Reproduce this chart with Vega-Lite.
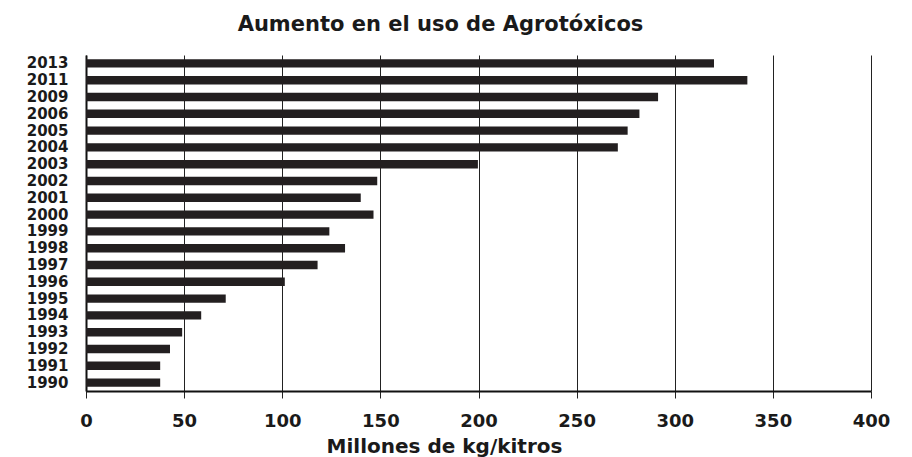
{
  "$schema": "https://vega.github.io/schema/vega-lite/v6.json",
  "width": 785,
  "height": 336,
  "autosize": "none",
  "padding": {"left": 86, "top": 55, "right": 41, "bottom": 66},
  "background": "white",
  "title": {
    "text": "Aumento en el uso de Agrotóxicos",
    "font": "DejaVu Sans",
    "fontSize": 21,
    "fontWeight": "bold",
    "color": "#1a1a1a",
    "anchor": "middle",
    "dx": -38,
    "dy": 19,
    "baseline": "alphabetic",
    "offset": 22
  },
  "data": {
    "values": [
      {"year": "2013", "value": 320},
      {"year": "2011", "value": 337},
      {"year": "2009", "value": 291.5},
      {"year": "2006", "value": 282},
      {"year": "2005", "value": 276},
      {"year": "2004", "value": 271},
      {"year": "2003", "value": 199.7},
      {"year": "2002", "value": 148.4},
      {"year": "2001", "value": 140},
      {"year": "2000", "value": 146.5},
      {"year": "1999", "value": 124},
      {"year": "1998", "value": 132},
      {"year": "1997", "value": 118},
      {"year": "1996", "value": 101.3},
      {"year": "1995", "value": 71.2},
      {"year": "1994", "value": 58.7},
      {"year": "1993", "value": 49},
      {"year": "1992", "value": 42.8},
      {"year": "1991", "value": 37.8},
      {"year": "1990", "value": 37.8}
    ]
  },
  "mark": {"type": "bar", "color": "#231f20"},
  "encoding": {
    "y": {
      "field": "year",
      "type": "nominal",
      "sort": "descending",
      "scale": {"paddingInner": 0.5, "paddingOuter": 0.25},
      "axis": {
        "title": null,
        "ticks": false,
        "grid": false,
        "domain": true,
        "domainColor": "#111111",
        "domainWidth": 2,
        "labelFont": "DejaVu Sans",
        "labelFontSize": 15,
        "labelFontWeight": "bold",
        "labelColor": "#1a1a1a",
        "labelPadding": 18
      }
    },
    "x": {
      "field": "value",
      "type": "quantitative",
      "scale": {"domain": [0, 400], "nice": false},
      "axis": {
        "values": [0, 50, 100, 150, 200, 250, 300, 350, 400],
        "title": "Millones de kg/kitros",
        "titleFont": "DejaVu Sans",
        "titleFontSize": 20,
        "titleFontWeight": "bold",
        "titleColor": "#1a1a1a",
        "titleX": 358,
        "titleY": 61,
        "titleBaseline": "alphabetic",
        "titleAlign": "center",
        "grid": true,
        "gridColor": "#222222",
        "gridWidth": 1,
        "gridOpacity": 1,
        "domainColor": "#111111",
        "domainWidth": 2,
        "ticks": true,
        "tickColor": "#222222",
        "tickSize": 7,
        "tickWidth": 1,
        "labelFont": "DejaVu Sans",
        "labelFontSize": 18,
        "labelFontWeight": "bold",
        "labelColor": "#1a1a1a",
        "labelPadding": 14,
        "labelFlush": false
      }
    }
  },
  "config": {
    "view": {"stroke": null}
  }
}
